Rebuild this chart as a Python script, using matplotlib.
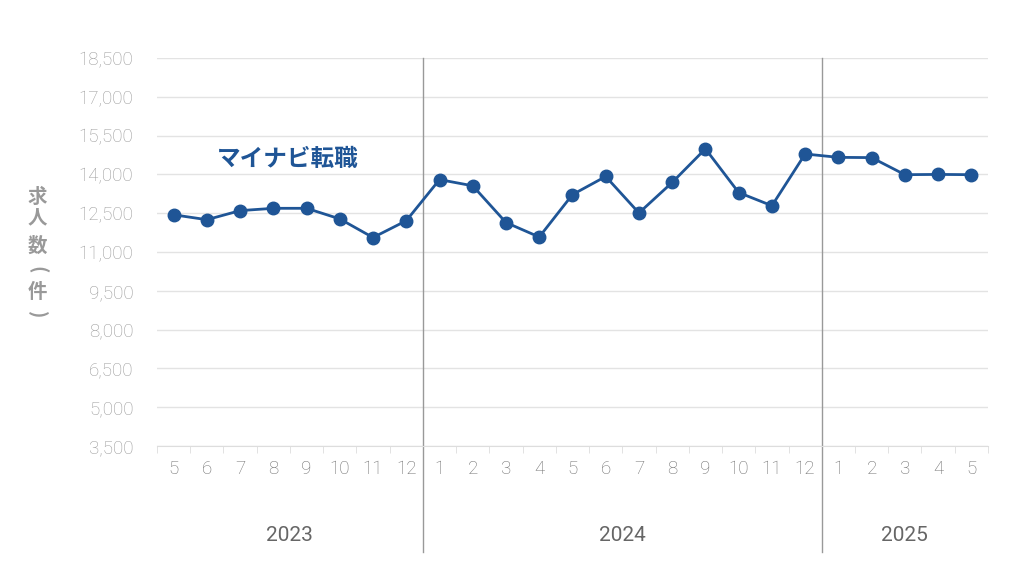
import numpy as np
import matplotlib.pyplot as plt
import matplotlib.transforms as mtransforms

plt.rcParams['font.family'] = ['Roboto', 'Noto Sans CJK JP', 'DejaVu Sans']

# data
months = ['5', '6', '7', '8', '9', '10', '11', '12',
          '1', '2', '3', '4', '5', '6', '7', '8', '9', '10', '11', '12',
          '1', '2', '3', '4', '5']
years = ['2023', '2024', '2025']
year_counts = [8, 12, 5]
jobs = [12440, 12250, 12600, 12690, 12690, 12280, 11560, 12210,
        13800, 13560, 12140, 11580, 13220, 13920, 12510, 13690, 14990, 13300, 12790, 14790,
        14660, 14650, 13990, 14000, 13990]
yticks = np.arange(3500, 18501, 1500)

blue = '#1f5596'
gray = '#999999'
cjk = ['Noto Sans CJK JP', 'DejaVu Sans']

fig = plt.figure(figsize=(10.24, 5.75), dpi=100)
ax = fig.add_axes([0.1533, 0.2243, 0.8115, 0.6748])

x = np.arange(len(months))
ax.plot(x, jobs, color=blue, lw=2, marker='o', ms=9, zorder=3)

ax.set_xlim(-0.5, len(months) - 0.5)
ax.set_ylim(3500, 18500)
ax.set_yticks(yticks)
ax.set_yticklabels([f'{v:,}' for v in yticks], fontsize=13.5, color='#9a9a9a', fontweight='light')
ax.tick_params(axis='y', length=0, pad=17)
ax.grid(axis='y', color='#e3e3e3', lw=1)
ax.set_axisbelow(True)

# month labels centred, tick marks between categories
ax.set_xticks(x)
ax.set_xticklabels(months, fontsize=13.5, color='#707070', fontweight='light')
ax.set_xticks(np.arange(len(months) + 1) - 0.5, minor=True)
ax.tick_params(axis='x', which='major', length=0, pad=10)
ax.tick_params(axis='x', which='minor', length=5, color='#dddddd')

for s in ['top', 'right', 'left']:
    ax.spines[s].set_visible(False)
ax.spines['bottom'].set_color('#dddddd')

# year separators and labels
trans = mtransforms.blended_transform_factory(ax.transData, ax.transAxes)
start = 0
for i, (yr, n) in enumerate(zip(years, year_counts)):
    mid = start + (n - 1) / 2
    ax.text(mid, -0.23, yr, transform=trans, ha='center', va='center',
            fontsize=15, color='#666666')
    if i > 0:
        ax.plot([start - 0.5, start - 0.5], [1, -0.273], transform=trans,
                color=gray, lw=1, clip_on=False)
    start += n

ax.text(1.3, 14600, 'マイナビ転職', fontsize=17, fontweight='bold', color=blue,
        ha='left', va='center', family=cjk)

# vertical axis title, one character per line
label_chars = ['求', '人', '数', '(', '件', ')']
label_y = [197, 218, 246, 270, 292, 315]
for ch, py in zip(label_chars, label_y):
    rot = -90 if ch in '()' else 0
    fig.text(37 / 1024, 1 - py / 575, ch, fontsize=14, fontweight='bold', color=gray,
             ha='center', va='center', rotation=rot, rotation_mode='anchor', family=cjk)

fig.savefig('out.png', dpi=100, facecolor='white')
